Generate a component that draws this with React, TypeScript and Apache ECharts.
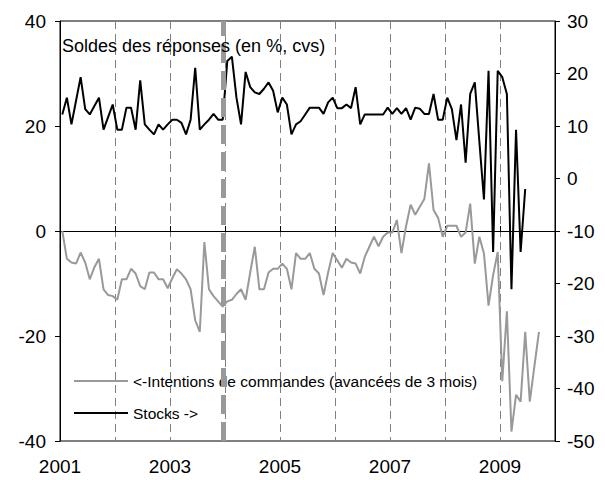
import React, { useEffect, useRef } from "react";
import * as echarts from "echarts";

// Monthly data, first month = January 2001
const START_YEAR = 2001;

// <-Intentions de commandes (avancées de 3 mois) — left axis
const intentions = [
  0.0, -5.3, -6.0, -6.2, -4.1, -6.0, -9.2, -6.9, -5.3, -11.1, -12.2, -12.4,
  -13.1, -9.2, -9.2, -7.2, -8.1, -10.5, -11.1, -7.9, -7.9, -9.2, -9.2, -10.9,
  -9.0, -7.3, -8.1, -9.2, -11.1, -17.0, -19.2, -2.1, -11.1, -12.4, -13.4, -14.4,
  -13.4, -13.1, -12.0, -11.1, -13.1, -7.9, -3.0, -11.1, -11.1, -7.9, -7.2, -7.2,
  -6.2, -7.2, -11.1, -4.2, -5.3, -5.3, -4.2, -7.2, -8.1, -12.2, -7.9, -4.2,
  -5.6, -7.0, -5.3, -6.0, -6.2, -8.1, -4.9, -3.0, -1.1, -2.9, -1.1, -0.3,
  -0.3, 2.1, -4.2, 0.9, 5.0, 3.1, 4.6, 6.1, 12.9, 4.0, 2.5, -1.1,
  1.0, 1.0, 1.0, -1.1, -0.3, 5.2, -6.2, -1.1, -4.3, -14.2, -8.4, -4.0,
  -28.6, -15.3, -38.2, -31.2, -32.5, -19.2, -32.5, -25.8, -19.2,
];

// Stocks -> — right axis
const stocks = [
  12.2, 15.4, 10.3, 14.8, 19.3, 13.2, 12.2, 13.8, 15.4, 9.3, 11.7, 14.1,
  9.3, 9.3, 13.5, 13.5, 9.3, 18.7, 10.3, 9.3, 8.4, 10.3, 9.3, 10.3,
  11.2, 11.2, 10.6, 8.4, 11.2, 21.1, 9.3, 10.3, 11.2, 12.3, 11.2, 11.2,
  22.4, 23.2, 15.4, 10.3, 20.3, 17.4, 16.4, 16.1, 17.1, 18.3, 16.7, 12.6,
  15.4, 14.1, 8.4, 10.3, 10.9, 12.2, 13.5, 13.5, 13.5, 12.3, 14.5, 15.4,
  13.4, 13.4, 14.1, 13.4, 17.4, 10.3, 12.2, 12.2, 12.2, 12.2, 12.2, 13.5,
  12.3, 13.4, 12.3, 13.4, 11.2, 13.5, 13.3, 12.3, 12.3, 16.1, 11.2, 11.2,
  15.4, 13.2, 7.3, 14.1, 3.0, 16.1, 18.3, 7.0, -4.0, 20.5, -14.0, 20.5,
  19.3, 16.1, -21.1, 9.3, -14.0, -2.0,
];

const xTickLabels = ["2001", "2003", "2005", "2007", "2009"];
const BREAK_DATE = 2003.97; // rupture marker, end of 2003

const TITLE = "Soldes des réponses (en %, cvs)";
const NAME_INTENTIONS = "<-Intentions de commandes (avancées de 3 mois)";
const NAME_STOCKS = "Stocks ->";

const FONT = "'Liberation Sans', Arial, sans-serif";

const toPoints = (arr: number[]) =>
  arr.map((v, i) => [START_YEAR + (i + 0.5) / 12, v]);

export default function App() {
  const ref = useRef<HTMLDivElement>(null);

  useEffect(() => {
    document.body.style.margin = "0";
    if (!ref.current) return;
    const chart = echarts.init(ref.current, null, { renderer: "svg" });
    const axisLabelStyle = { fontSize: 19, color: "#000", fontFamily: FONT };
    chart.setOption({
      animation: false,
      backgroundColor: "#ffffff",
      textStyle: { fontFamily: FONT },
      title: {
        text: TITLE,
        left: 62,
        top: 37,
        padding: 0,
        textStyle: { fontSize: 18, fontWeight: "normal", color: "#000", fontFamily: FONT },
      },
      legend: [
        {
          data: [NAME_INTENTIONS],
          left: 74,
          top: 373,
          padding: 0,
          icon: "rect",
          itemWidth: 54,
          itemHeight: 2,
          textStyle: { fontSize: 15.5, color: "#000", fontFamily: FONT },
        },
        {
          data: [NAME_STOCKS],
          left: 74,
          top: 405,
          padding: 0,
          icon: "rect",
          itemWidth: 54,
          itemHeight: 2,
          textStyle: { fontSize: 15.5, color: "#000", fontFamily: FONT },
        },
      ],
      grid: {
        left: 60,
        right: 50,
        top: 21,
        bottom: 39,
        show: true,
        borderColor: "#000",
        borderWidth: 1,
        backgroundColor: "transparent",
      },
      xAxis: {
        type: "value",
        min: 2001,
        max: 2010,
        interval: 1,
        axisLine: { lineStyle: { color: "#000", width: 1 } },
        axisTick: { inside: true, length: 5, lineStyle: { color: "#000" } },
        axisLabel: {
          ...axisLabelStyle,
          margin: 16,
          formatter: (v: number) => (xTickLabels.includes(String(v)) ? String(v) : ""),
        },
        splitLine: { show: true, lineStyle: { color: "#808080", type: [8, 5], width: 1 } },
      },
      yAxis: [
        {
          type: "value",
          min: -40,
          max: 40,
          interval: 20,
          position: "left",
          z: 3,
          axisLine: { show: true, lineStyle: { color: "#000", width: 1 } },
          axisTick: { show: true, length: 5, lineStyle: { color: "#000" } },
          axisLabel: { ...axisLabelStyle, margin: 14 },
          splitLine: { show: false },
        },
        {
          type: "value",
          min: -50,
          max: 30,
          interval: 10,
          position: "right",
          z: 3,
          axisLine: { show: true, lineStyle: { color: "#000", width: 1 } },
          axisTick: { show: true, length: 5, lineStyle: { color: "#000" } },
          axisLabel: { ...axisLabelStyle, margin: 12 },
          splitLine: { show: false },
        },
      ],
      series: [
        {
          name: NAME_INTENTIONS,
          type: "line",
          yAxisIndex: 0,
          data: toPoints(intentions),
          symbol: "none",
          color: "#999999",
          lineStyle: { color: "#999999", width: 2 },
          markLine: {
            silent: true,
            symbol: "none",
            label: { show: false },
            lineStyle: { color: "#999999", width: 5, type: [19, 8] },
            data: [{ xAxis: BREAK_DATE }],
          },
        },
        {
          name: NAME_STOCKS,
          type: "line",
          yAxisIndex: 1,
          data: toPoints(stocks),
          symbol: "none",
          color: "#000000",
          lineStyle: { color: "#000000", width: 2 },
        },
      ],
    });
    return () => chart.dispose();
  }, []);

  return <div ref={ref} style={{ width: 605, height: 480 }} />;
}
